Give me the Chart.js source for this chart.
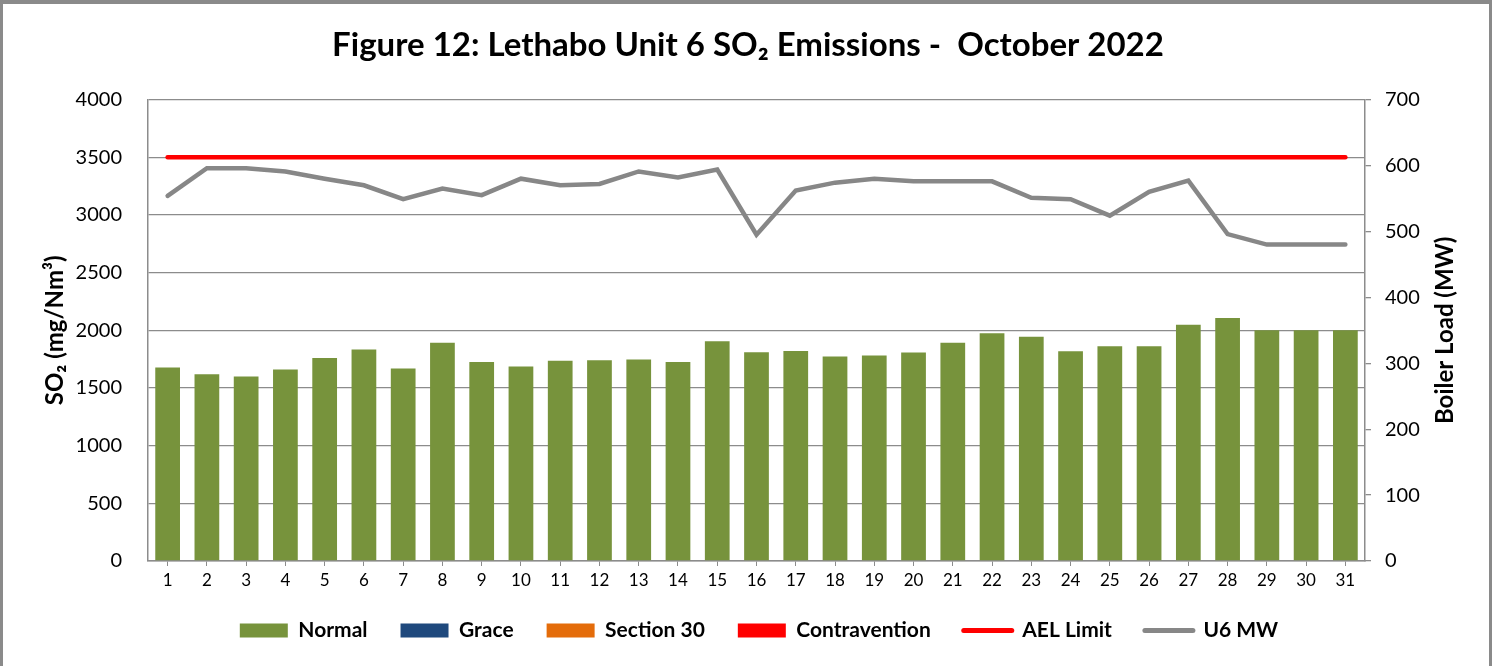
<!DOCTYPE html>
<html><head><meta charset="utf-8">
<script src="https://cdn.jsdelivr.net/npm/chart.js@4.4.0/dist/chart.umd.min.js"></script>
<style>html,body{margin:0;padding:0;background:#fff;overflow:hidden}</style>
</head><body>
<canvas id="c" width="1496" height="666" style="display:block"></canvas>
<script>
const days = ['1','2','3','4','5','6','7','8','9','10','11','12','13','14','15','16','17','18','19','20','21','22','23','24','25','26','27','28','29','30','31'];
const normal = [1677,1619,1599,1660,1760,1833,1668,1893,1726,1686,1737,1740,1746,1726,1905,1810,1821,1772,1781,1807,1893,1974,1945,1818,1861,1861,2049,2106,2000,2000,2000];
const grace = [];
const section30 = [];
const contravention = [];
const aelLimit = [3500,3500,3500,3500,3500,3500,3500,3500,3500,3500,3500,3500,3500,3500,3500,3500,3500,3500,3500,3500,3500,3500,3500,3500,3500,3500,3500,3500,3500,3500,3500];
const u6MW = [554,596,596,591,580,570,549,565,555,580,570,572,591,582,594,495,562,574,580,576,576,576,551,549,524,560,577,496,480,480,480];
const titleText = 'Figure 12: Lethabo Unit 6 SO\u2082 Emissions -  October 2022';
const leftTitle = 'SO\u2082 (mg/Nm\u00b3)';
const rightTitle = 'Boiler Load (MW)';

const FONT = 'Lato, "Noto Sans", sans-serif';
const GRID = '#8c8c8c';

const frame = {
  id: 'frame',
  beforeDraw(chart) {
    const ctx = chart.ctx;
    ctx.save();
    ctx.fillStyle = '#fff';
    ctx.fillRect(0, 0, chart.width, chart.height);
    ctx.restore();
  },
  afterLayout(chart) {
    if (chart.legend) { chart.legend.left += 11; chart.legend.right += 11; }
  },
  afterDraw(chart) {
    const ctx = chart.ctx;
    ctx.save();
    ctx.fillStyle = '#8a8a8a';
    ctx.fillRect(0, 0, 1492, 4);
    ctx.fillRect(0, 0, 3, 666);
    ctx.fillRect(1489, 0, 3, 666);
    // right axis title, reading bottom-to-top like the reference
    const a = chart.chartArea;
    ctx.translate(1445, (a.top + a.bottom) / 2);
    ctx.rotate(-Math.PI / 2);
    ctx.fillStyle = '#000';
    ctx.font = 'bold 24px ' + FONT;
    ctx.textAlign = 'center';
    ctx.textBaseline = 'middle';
    ctx.fillText(rightTitle, 0, 0);
    ctx.restore();
  }
};

const barCommon = { type: 'bar', yAxisID: 'y', grouped: false, barPercentage: 0.63, categoryPercentage: 1, order: 2, borderWidth: 0 };

new Chart(document.getElementById('c'), {
  data: {
    labels: days,
    datasets: [
      Object.assign({ label: 'Normal', data: normal, backgroundColor: '#77933C' }, barCommon),
      Object.assign({ label: 'Grace', data: grace, backgroundColor: '#1F497D' }, barCommon),
      Object.assign({ label: 'Section 30', data: section30, backgroundColor: '#E46C0A' }, barCommon),
      Object.assign({ label: 'Contravention', data: contravention, backgroundColor: '#FF0000' }, barCommon),
      { type: 'line', label: 'AEL Limit', data: aelLimit, yAxisID: 'y', borderColor: '#FF0000', backgroundColor: '#FF0000',
        borderWidth: 4.5, pointRadius: 0, tension: 0, borderCapStyle: 'round', order: 0 },
      { type: 'line', label: 'U6 MW', data: u6MW, yAxisID: 'y2', borderColor: '#878787', backgroundColor: '#878787',
        borderWidth: 4.5, pointRadius: 0, tension: 0, borderCapStyle: 'round', borderJoinStyle: 'miter', order: 1 }
    ]
  },
  options: {
    responsive: false,
    animation: false,
    devicePixelRatio: 1,
    layout: { padding: { left: 0, right: 0, top: 0, bottom: 15 } },
    plugins: {
      title: {
        display: true, text: titleText, color: '#000',
        font: { family: FONT, size: 33, weight: 'bold' },
        padding: { top: 26, bottom: 34 }
      },
      legend: {
        position: 'bottom',
        labels: {
          usePointStyle: true,
          pointStyleWidth: 48,
          boxHeight: 14,
          padding: 33,
          color: '#000',
          font: { family: FONT, size: 21, weight: 'bold' },
          generateLabels(chart) {
            return chart.data.datasets.map((d, i) => {
              const isLine = d.type === 'line';
              return {
                text: d.label,
                datasetIndex: i,
                fillStyle: d.backgroundColor,
                strokeStyle: isLine ? d.borderColor : d.backgroundColor,
                lineWidth: isLine ? 5 : 0,
                lineCap: 'round',
                pointStyle: isLine ? 'line' : 'rect',
                fontColor: '#000',
                hidden: false
              };
            });
          }
        }
      },
      tooltip: { enabled: false }
    },
    scales: {
      x: {
        offset: true,
        grid: { display: true, drawOnChartArea: false, drawTicks: true, tickLength: 5, color: GRID, offset: false },
        border: { display: true, color: GRID, width: 1.5 },
        ticks: { color: '#000', font: { family: FONT, size: 17 }, padding: 4, maxRotation: 0, autoSkip: false },
        afterFit(s) { s.height = 26; }
      },
      y: {
        position: 'left', min: 0, max: 4000,
        grid: { color: GRID, lineWidth: 1.3, drawTicks: false },
        border: { display: true, color: GRID, width: 1.5 },
        ticks: { stepSize: 500, color: '#000', font: { family: FONT, size: 20 }, padding: 26, callback: v => String(v) },
        title: { display: true, text: leftTitle, color: '#000', font: { family: FONT, size: 24, weight: 'bold' }, padding: { top: 41, bottom: 0 } },
        afterFit(s) { s.width = 148; }
      },
      y2: {
        position: 'right', min: 0, max: 700,
        grid: { drawOnChartArea: false, drawTicks: true, tickLength: 6, color: GRID, lineWidth: 1.3 },
        border: { display: true, color: GRID, width: 1.5 },
        ticks: { stepSize: 100, color: '#000', font: { family: FONT, size: 20 }, padding: 14, callback: v => String(v) },
        title: { display: false, text: rightTitle },
        afterFit(s) { s.width = 131; }
      }
    }
  },
  plugins: [frame]
});
</script>
</body></html>
